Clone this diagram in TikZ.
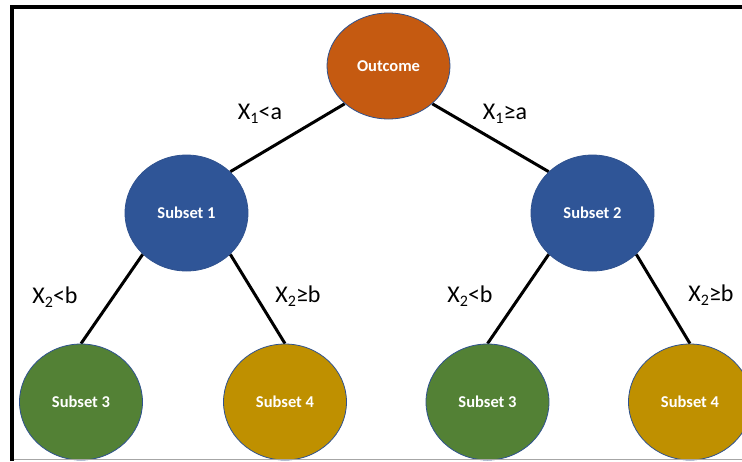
\documentclass[tikz,border=0pt]{standalone}
\usepackage{fontspec}
\setmainfont{Carlito}
\usetikzlibrary{shapes.geometric,backgrounds}
\definecolor{cOrange}{HTML}{C55A11}
\definecolor{cBlue}{HTML}{2F5597}
\definecolor{cGreen}{HTML}{538135}
\definecolor{cGold}{HTML}{BF9000}
\definecolor{cEdge}{HTML}{2F528F}
\newcommand\mysub[1]{\raisebox{-0.32ex}{\fontsize{16}{16}\selectfont #1}}
\tikzset{
  blob/.style={ellipse, draw=cEdge, line width=0.8pt, minimum width=123pt, minimum height=116pt, inner sep=0pt,
    text=white, font=\fontsize{16.5}{18}\selectfont\bfseries},
  branch/.style={line width=3pt, black},
  cond/.style={font=\fontsize{24}{28}\selectfont, text=black, inner sep=0pt},
}
\begin{document}
\begin{tikzpicture}[x=1pt,y=-1pt]
\useasboundingbox (0,0) rectangle (742,461);
% nodes
\node[blob, fill=cOrange, minimum height=106pt] (out) at (388.5,66) {Outcome};
\node[blob, fill=cBlue] (s1) at (186.5,213) {Subset 1};
\node[blob, fill=cBlue] (s2) at (592.5,213) {Subset 2};
\node[blob, fill=cGreen] (s3a) at (81,402) {Subset 3};
\node[blob, fill=cGold] (s4a) at (285,402) {Subset 4};
\node[blob, fill=cGreen] (s3b) at (487.5,402) {Subset 3};
\node[blob, fill=cGold] (s4b) at (690,402) {Subset 4};
% connectors and frame behind
\begin{scope}[on background layer]
\fill[white] (0,0) rectangle (742,461);
\draw[branch] (out.south west) -- (s1.north east);
\draw[branch] (out.south east) -- (s2.north west);
\draw[branch] (s1.south west) -- (s3a.north);
\draw[branch] (s1.south east) -- (s4a.north);
\draw[branch] (s2.south west) -- (s3b.north);
\draw[branch] (s2.south east) -- (s4b.north);
\coordinate (fbl) at (12,461);
\coordinate (ftl) at (12,7);
\coordinate (ftr) at (742,7);
\draw[line width=4pt, black] (fbl) -- (ftl) -- (ftr);
\end{scope}
\coordinate (gl) at (14,459.5);
\coordinate (gr) at (742,459.5);
\draw[line width=1.2pt, gray!70] (gl) -- (gr);
% labels
\node[cond] (l1) at (260,114) {X\mysub{1}<a};
\node[cond] (l2) at (505,114) {X\mysub{1}≥a};
\node[cond] (l3) at (55,297) {X\mysub{2}<b};
\node[cond] (l4) at (298,296) {X\mysub{2}≥b};
\node[cond] (l5) at (470,296) {X\mysub{2}<b};
\node[cond] (l6) at (711,295) {X\mysub{2}≥b};
\end{tikzpicture}
\end{document}
